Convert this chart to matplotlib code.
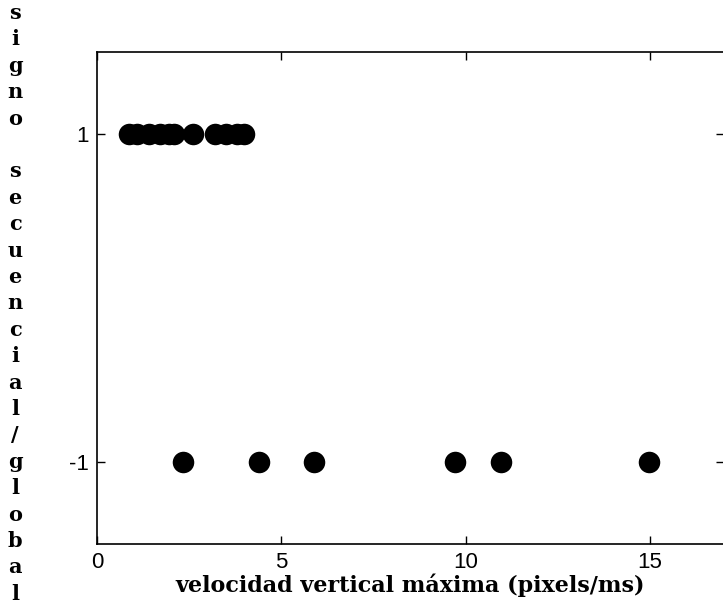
import matplotlib

matplotlib.use("Agg")
import matplotlib.pyplot as plt

plt.rcParams["axes.unicode_minus"] = False

# velocidad vertical maxima (pixels/ms) per signo
vel_pos = [0.88, 1.1, 1.4, 1.7, 1.95, 2.1, 2.6, 3.2, 3.5, 3.8, 3.98]
vel_neg = [2.34, 4.39, 5.9, 9.72, 10.97, 14.96]
signo_pos = [1] * len(vel_pos)
signo_neg = [-1] * len(vel_neg)

x_ticks = [0, 5, 10, 15]
y_ticks = [-1, 1]
x_label = "velocidad vertical máxima (pixels/ms)"
y_label = "signo secuencial/global"

fig = plt.figure(figsize=(7.23, 6.12), dpi=100)
ax = fig.add_axes([0.134, 0.111, 0.867, 0.804])

ax.plot(vel_pos, signo_pos, "o", color="black", markersize=15.5, markeredgewidth=0)
ax.plot(vel_neg, signo_neg, "o", color="black", markersize=15.5, markeredgewidth=0)

ax.set_xlim(0, 17)
ax.set_ylim(-1.5, 1.5)
ax.set_xticks(x_ticks)
ax.set_yticks(y_ticks)
ax.tick_params(direction="in", length=6, width=1, top=True, right=True,
               labelsize=16)
ax.tick_params(axis="x", pad=6)
ax.tick_params(axis="y", pad=6)
for lab in ax.get_xticklabels() + ax.get_yticklabels():
    lab.set_family("Liberation Sans")
for sp in ax.spines.values():
    sp.set_linewidth(1.2)

ax.set_xlabel(x_label, family="DejaVu Serif", fontweight="bold",
              fontsize=16, labelpad=0)

# MATLAB-style vertical label: one character per line
chars = [c if c != " " else "" for c in y_label]
y0, step = 1 - 13 / 612, 26.4 / 612
for i, ch in enumerate(chars):
    fig.text(15 / 723, y0 - i * step, ch, family="DejaVu Serif",
             fontweight="bold", fontsize=15, ha="center", va="center")

fig.savefig("out.png", dpi=100)
